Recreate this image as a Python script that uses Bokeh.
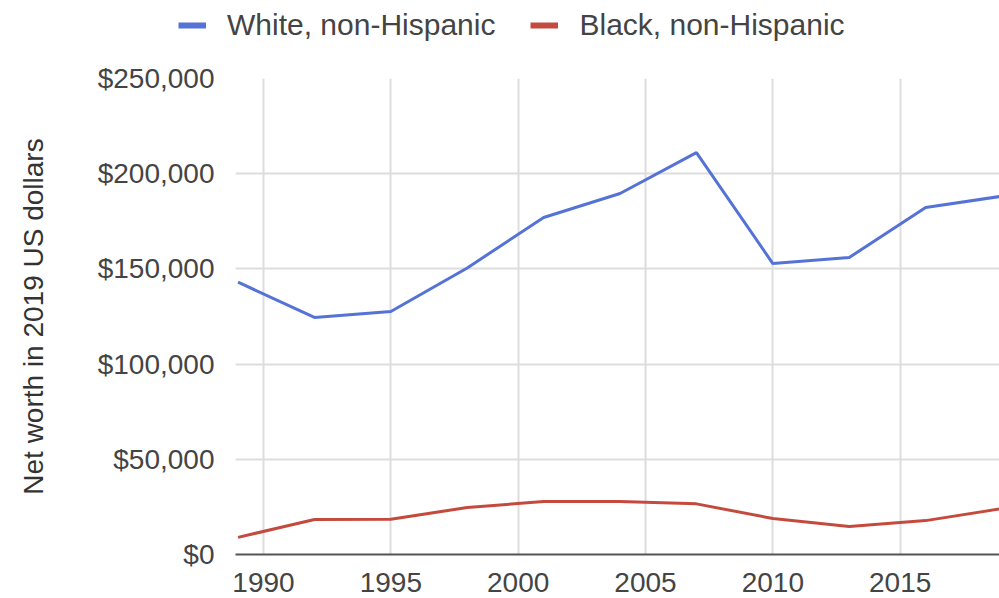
from bokeh.plotting import figure
from bokeh.layouts import column
from bokeh.models import (Range1d, FixedTicker, NumeralTickFormatter, Legend, LegendItem,
                          ColumnDataSource)
from bokeh.embed import file_html
from bokeh.resources import INLINE

years = [1989, 1992, 1995, 1998, 2001, 2004, 2007, 2010, 2013, 2016, 2019]
white = [143000, 124500, 127600, 150500, 177000, 189600, 211100, 152800, 156000, 182200, 188200]
black = [9000, 18400, 18500, 24700, 27800, 27800, 26600, 18900, 14700, 17800, 24100]
series_names = ["White, non-Hispanic", "Black, non-Hispanic"]
series_colors = ["#5573d6", "#c44a3e"]
x_ticks = [1990, 1995, 2000, 2005, 2010, 2015]
y_ticks = [0, 50000, 100000, 150000, 200000, 250000]
y_title = "Net worth in 2019 US dollars"

FONT = "Liberation Sans"

src = ColumnDataSource(dict(year=years, white=white, black=black))

# ---- legend strip on top (its ranges keep the proxy lines out of view) ----
lg = figure(width=999, height=60, output_backend="svg", toolbar_location=None,
            x_range=Range1d(0, 1), y_range=Range1d(0, 1),
            x_axis_location=None, y_axis_location=None,
            min_border_left=0, min_border_right=0, min_border_top=0, min_border_bottom=0)
lg.outline_line_color = None
lg.grid.visible = False
lw = lg.line("year", "white", source=src, line_color=series_colors[0], line_width=6)
lb = lg.line("year", "black", source=src, line_color=series_colors[1], line_width=6)
legend = Legend(items=[LegendItem(label=series_names[0], renderers=[lw]),
                       LegendItem(label=series_names[1], renderers=[lb])],
                orientation="horizontal", location=(178, 18),
                padding=0, margin=0, spacing=35, glyph_width=28, glyph_height=30,
                label_height=30, label_standoff=21,
                label_text_font=FONT, label_text_font_size="30px", label_text_color="#444444",
                border_line_color=None, background_fill_alpha=0)
lg.add_layout(legend, "center")

# ---- main chart ----
p = figure(width=999, height=538, output_backend="svg", toolbar_location=None,
           x_range=Range1d(1988.9, 2018.9), y_range=Range1d(0, 250000),
           min_border_left=235, min_border_right=0, min_border_top=18, min_border_bottom=44)
p.outline_line_color = None
p.background_fill_color = "white"
p.border_fill_color = "white"

p.line("year", "white", source=src, line_color=series_colors[0], line_width=3)
p.line("year", "black", source=src, line_color=series_colors[1], line_width=3)

p.xaxis.ticker = FixedTicker(ticks=x_ticks)
p.yaxis.ticker = FixedTicker(ticks=y_ticks)
p.yaxis.formatter = NumeralTickFormatter(format="$0,0")

for ax in (p.xaxis, p.yaxis):
    ax.major_tick_line_color = None
    ax.minor_tick_line_color = None
    ax.major_label_text_font = FONT
    ax.major_label_text_font_size = "28px"
    ax.major_label_text_color = "#444444"

p.xaxis.axis_line_color = "#555555"
p.xaxis.axis_line_width = 2
p.xaxis.major_label_standoff = 12
p.yaxis.axis_line_color = None
p.yaxis.major_label_standoff = 15
p.yaxis.axis_label = y_title
p.yaxis.axis_label_text_font = FONT
p.yaxis.axis_label_text_font_size = "28px"
p.yaxis.axis_label_text_font_style = "normal"
p.yaxis.axis_label_text_color = "#333333"
p.yaxis.axis_label_standoff = 46

p.xgrid.grid_line_color = "#dddddd"
p.xgrid.grid_line_width = 2
p.ygrid.grid_line_color = "#dddddd"
p.ygrid.grid_line_width = 2

layout = column(column(lg, spacing=0), column(p, spacing=0), spacing=0)
open("out.html", "w").write(file_html(layout, INLINE))
